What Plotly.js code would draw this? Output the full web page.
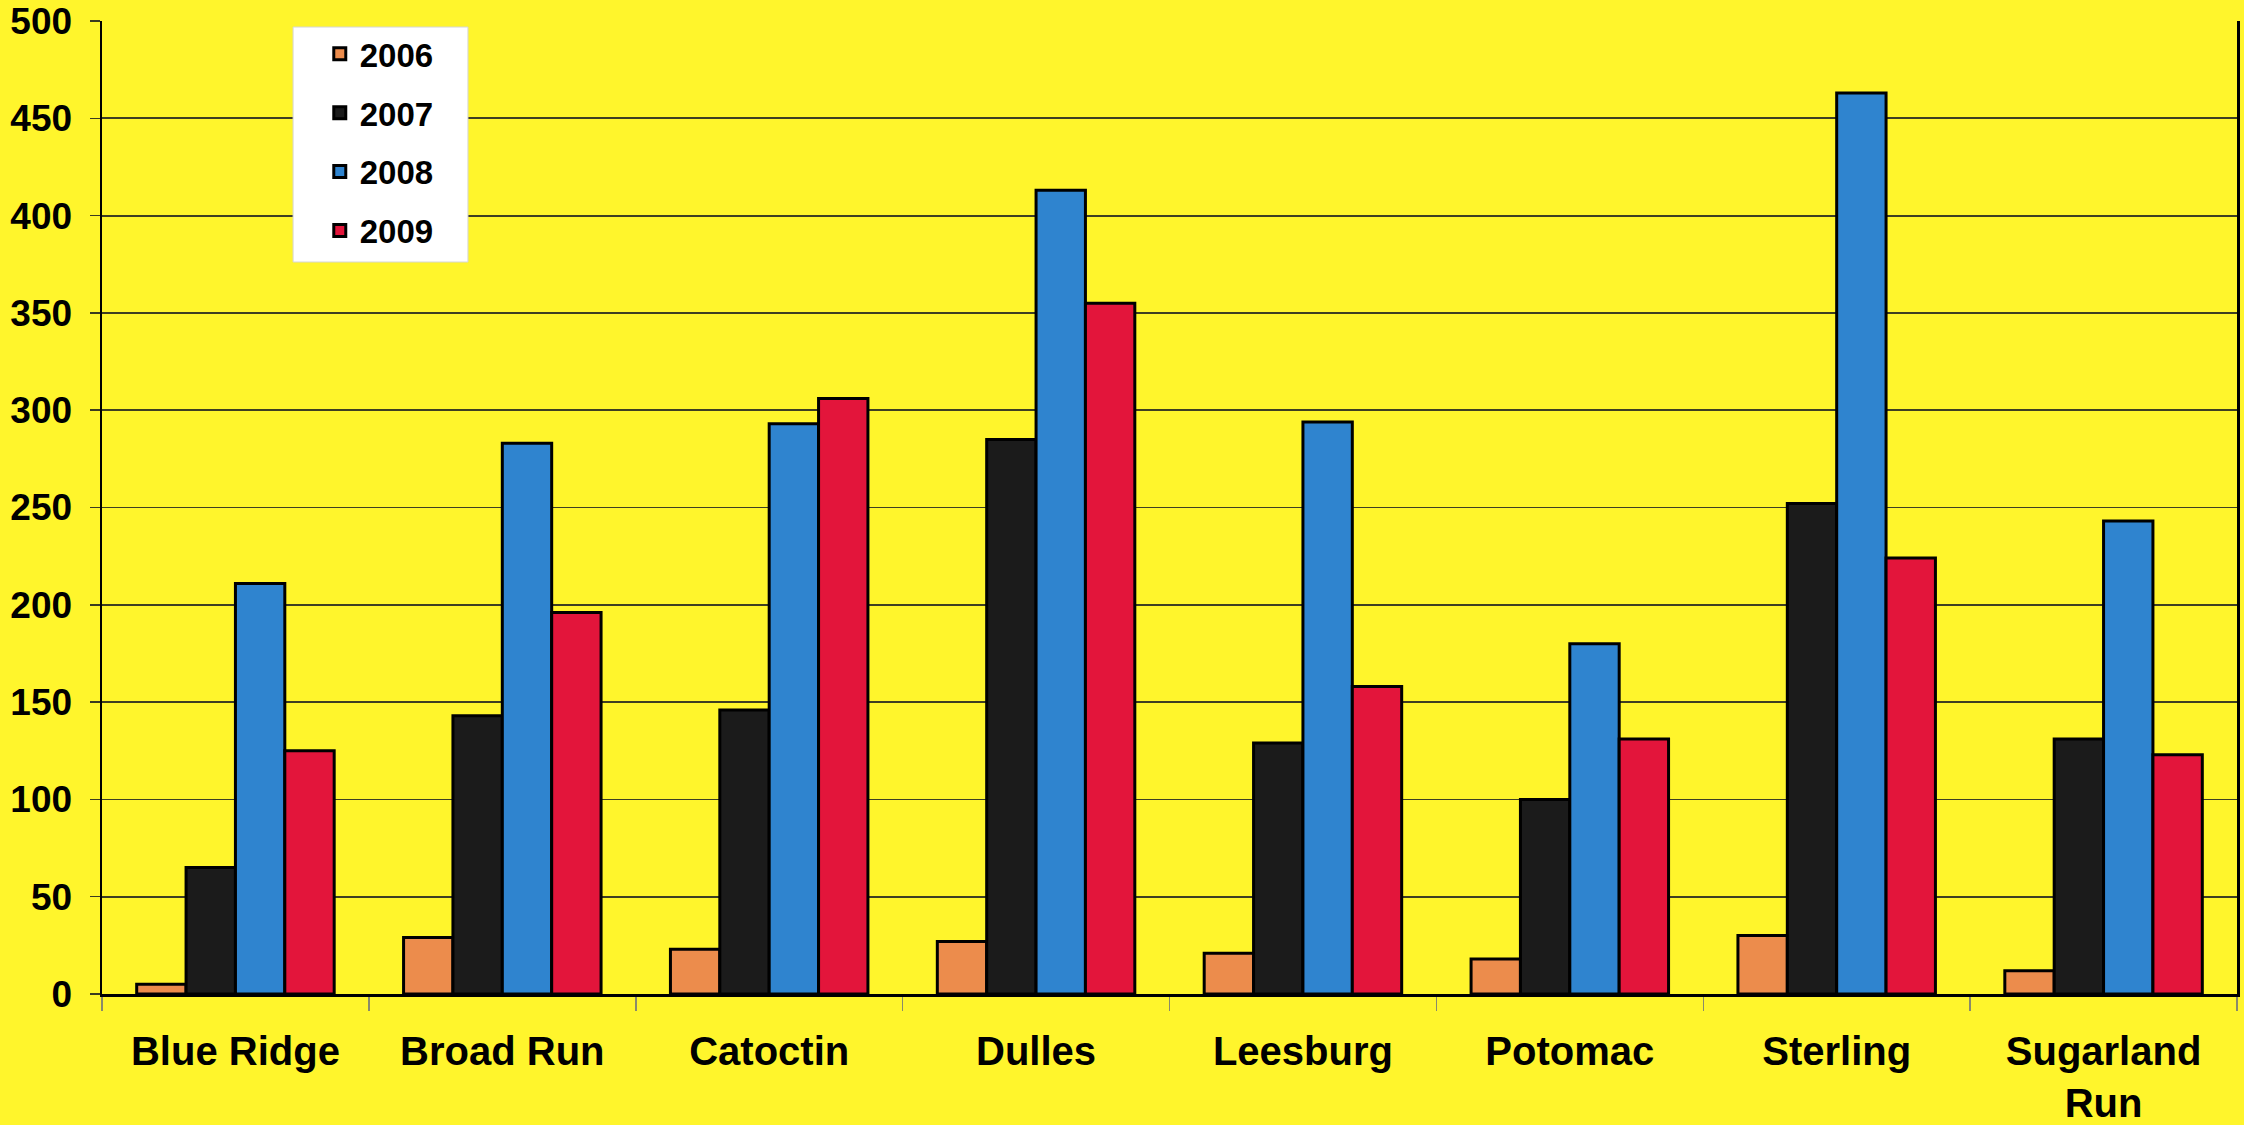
<!DOCTYPE html>
<html>
<head>
<meta charset="utf-8">
<script src="https://cdn.plot.ly/plotly-3.0.1.min.js"></script>
<style>
  html, body { margin: 0; padding: 0; background: #FFF52C; }
  #chart { width: 2244px; height: 1125px; }
</style>
</head>
<body>
<div id="chart"></div>
<script>
// District names along the bottom axis
const districts = ["Blue Ridge", "Broad Run", "Catoctin", "Dulles", "Leesburg", "Potomac", "Sterling", "Sugarland<br>Run"];

// Yearly counts per district
const years = ["2006", "2007", "2008", "2009"];
const values2006 = [5, 29, 23, 27, 21, 18, 30, 12];
const values2007 = [65, 143, 146, 285, 129, 100, 252, 131];
const values2008 = [211, 283, 293, 413, 294, 180, 463, 243];
const values2009 = [125, 196, 306, 355, 158, 131, 224, 123];

const seriesValues = [values2006, values2007, values2008, values2009];
const seriesColors = ["#EC8C4C", "#1B1B1B", "#2F84CF", "#E3153B"];

const yTicks = [0, 50, 100, 150, 200, 250, 300, 350, 400, 450, 500];

const traces = years.map((yr, i) => ({
  type: "bar",
  name: yr,
  legendgroup: yr,
  x: districts,
  y: seriesValues[i],
  marker: { color: seriesColors[i], line: { color: "#000000", width: 3 } },
  hoverinfo: "x+y+name"
}));

const layout = {
  width: 2244,
  height: 1125,
  paper_bgcolor: "#FFF52C",
  plot_bgcolor: "#FFF52C",
  margin: { l: 102, r: 7, t: 21, b: 131 },
  barmode: "group",
  bargap: 0.26,
  bargroupgap: 0,
  font: { family: "Liberation Sans, Arial, sans-serif", color: "#000000" },
  showlegend: true,
  // white panel behind the legend entries
  shapes: [{
    type: "rect",
    xref: "paper", yref: "paper",
    x0: 0.0895, x1: 0.1714,
    y0: 0.7523, y1: 0.9938,
    fillcolor: "#FFFFFF",
    line: { color: "#D6D6D6", width: 1 },
    layer: "above"
  }],
  legend: {
    x: 0.102, xanchor: "left",
    y: 0.995, yanchor: "top",
    bgcolor: "rgba(0,0,0,0)",
    borderwidth: 0,
    font: { size: 33, weight: "bold", family: "Liberation Sans, Arial, sans-serif" },
    tracegroupgap: 13,
    itemwidth: 30
  },
  xaxis: {
    type: "category",
    tickson: "boundaries",
    ticks: "outside",
    ticklen: 14,
    tickwidth: 1.5,
    tickcolor: "#8A8A6A",
    showgrid: false,
    showline: true,
    linecolor: "#000000",
    linewidth: 2.5,
    tickfont: { size: 40, weight: "bold" },
    ticklabelstandoff: 20
  },
  yaxis: {
    range: [0, 500],
    tickvals: yTicks,
    ticktext: yTicks.map(String),
    ticks: "outside",
    ticklen: 10,
    tickwidth: 1.5,
    tickcolor: "#3A3A20",
    showgrid: true,
    gridcolor: "#3E3E22",
    gridwidth: 1.8,
    showline: true,
    mirror: true,
    linecolor: "#000000",
    linewidth: 2.5,
    zeroline: false,
    tickfont: { size: 37, weight: "bold" },
    ticklabelstandoff: 10
  }
};

Plotly.newPlot("chart", traces, layout, { displayModeBar: false, staticPlot: true });
</script>
</body>
</html>
